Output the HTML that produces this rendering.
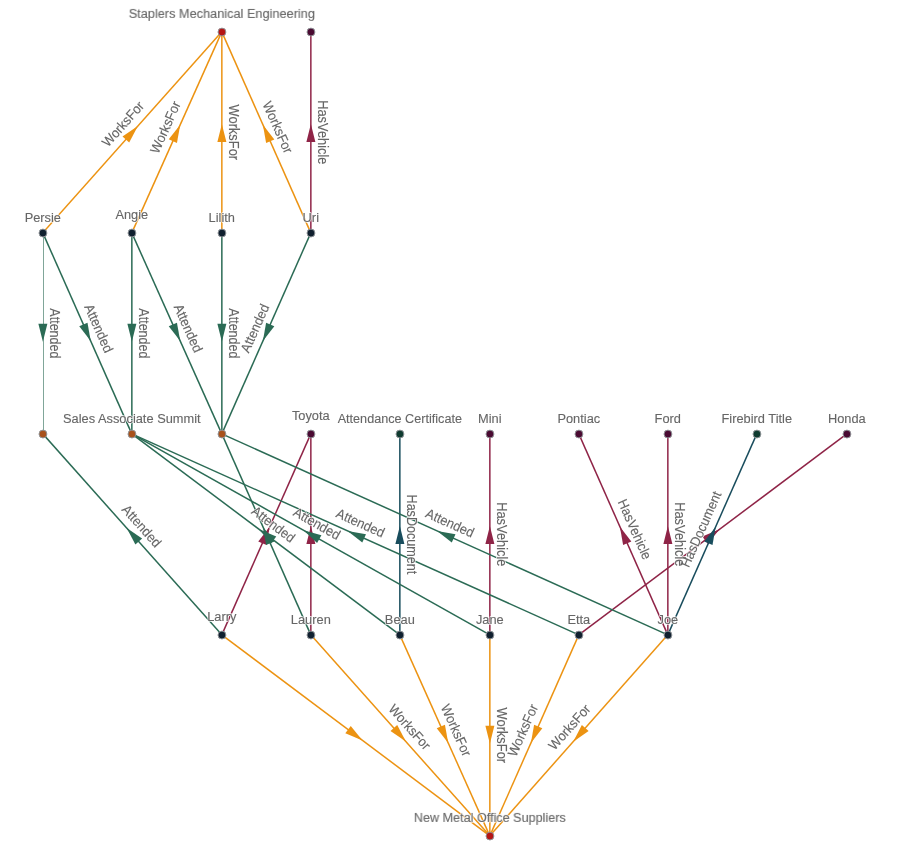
<!DOCTYPE html>
<html lang="en">
<head>
<meta charset="utf-8">
<title>Graph</title>
<style>
html,body{margin:0;padding:0;background:#fff;}
body{width:915px;height:852px;overflow:hidden;}
svg{display:block;will-change:transform;}
text{font-family:"Liberation Sans",sans-serif;font-size:13.3px;text-anchor:middle;}
.halo{fill:#fff;stroke:#fff;stroke-width:1.5px;stroke-linejoin:round;opacity:0.9;}
.fg{fill:#666666;stroke:#666666;stroke-width:0.12px;}
.e{fill:none;stroke-width:1.5;}
.n{stroke:#909498;stroke-width:1;}
</style>
</head>
<body>
<svg width="915" height="852" viewBox="0 0 915 852">
<defs><clipPath id="pr"><rect x="43" y="0" width="872" height="852"/></clipPath></defs>
<g clip-path="url(#pr)">
<line class="e" x1="42.8" y1="232.85" x2="221.8" y2="31.85" stroke="#ec9312"/>
<line class="e" x1="131.8" y1="232.85" x2="221.8" y2="31.85" stroke="#ec9312"/>
<line class="e" x1="221.85" y1="232.85" x2="221.85" y2="31.85" stroke="#ec9312" stroke-width="1.38"/>
<line class="e" x1="310.8" y1="232.85" x2="221.8" y2="31.85" stroke="#ec9312"/>
<line class="e" x1="221.8" y1="634.85" x2="489.8" y2="835.85" stroke="#ec9312"/>
<line class="e" x1="310.8" y1="634.85" x2="489.8" y2="835.85" stroke="#ec9312"/>
<line class="e" x1="399.8" y1="634.85" x2="489.8" y2="835.85" stroke="#ec9312"/>
<line class="e" x1="489.85" y1="634.85" x2="489.85" y2="835.85" stroke="#ec9312" stroke-width="1.38"/>
<line class="e" x1="578.8" y1="634.85" x2="489.8" y2="835.85" stroke="#ec9312"/>
<line class="e" x1="667.8" y1="634.85" x2="489.8" y2="835.85" stroke="#ec9312"/>
<line class="e" x1="310.85" y1="232.85" x2="310.85" y2="31.85" stroke="#8f2447" stroke-width="1.38"/>
<line class="e" x1="221.8" y1="634.85" x2="310.8" y2="433.85" stroke="#8f2447"/>
<line class="e" x1="310.85" y1="634.85" x2="310.85" y2="433.85" stroke="#8f2447" stroke-width="1.38"/>
<line class="e" x1="489.85" y1="634.85" x2="489.85" y2="433.85" stroke="#8f2447" stroke-width="1.38"/>
<line class="e" x1="667.8" y1="634.85" x2="578.8" y2="433.85" stroke="#8f2447"/>
<line class="e" x1="667.85" y1="634.85" x2="667.85" y2="433.85" stroke="#8f2447" stroke-width="1.38"/>
<line class="e" x1="578.8" y1="634.85" x2="846.8" y2="433.85" stroke="#8f2447"/>
<line class="e" x1="399.85" y1="634.85" x2="399.85" y2="433.85" stroke="#194d5d" stroke-width="1.38"/>
<line class="e" x1="667.8" y1="634.85" x2="756.8" y2="433.85" stroke="#194d5d"/>
<line class="e" x1="42.85" y1="232.85" x2="42.85" y2="433.85" stroke="#2b6b55" stroke-width="1.38"/>
<line class="e" x1="42.8" y1="232.85" x2="131.8" y2="433.85" stroke="#2b6b55"/>
<line class="e" x1="131.85" y1="232.85" x2="131.85" y2="433.85" stroke="#2b6b55" stroke-width="1.38"/>
<line class="e" x1="131.8" y1="232.85" x2="221.8" y2="433.85" stroke="#2b6b55"/>
<line class="e" x1="221.85" y1="232.85" x2="221.85" y2="433.85" stroke="#2b6b55" stroke-width="1.38"/>
<line class="e" x1="310.8" y1="232.85" x2="221.8" y2="433.85" stroke="#2b6b55"/>
<line class="e" x1="221.8" y1="634.85" x2="42.8" y2="433.85" stroke="#2b6b55"/>
<line class="e" x1="310.8" y1="634.85" x2="221.8" y2="433.85" stroke="#2b6b55"/>
<line class="e" x1="399.8" y1="634.85" x2="131.8" y2="433.85" stroke="#2b6b55"/>
<line class="e" x1="489.8" y1="634.85" x2="131.8" y2="433.85" stroke="#2b6b55"/>
<line class="e" x1="578.8" y1="634.85" x2="131.8" y2="433.85" stroke="#2b6b55"/>
<line class="e" x1="667.8" y1="634.85" x2="221.8" y2="433.85" stroke="#2b6b55"/>
</g>
<g>
<polygon points="137.89,126.08 129.21,142.59 122.49,136.6" fill="#ec9312"/>
<polygon points="180.23,124.68 176.94,143.04 168.73,139.36" fill="#ec9312"/>
<polygon points="221.85,123.95 226.35,142.05 217.35,142.05" fill="#ec9312"/>
<polygon points="262.9,124.67 274.34,139.4 266.11,143.04" fill="#ec9312"/>
<polygon points="362.52,740.39 345.34,733.13 350.74,725.93" fill="#ec9312"/>
<polygon points="405.89,741.62 390.49,731.1 397.21,725.11" fill="#ec9312"/>
<polygon points="448.23,743.02 436.73,728.34 444.94,724.66" fill="#ec9312"/>
<polygon points="489.85,743.75 485.35,725.65 494.35,725.65" fill="#ec9312"/>
<polygon points="530.9,743.03 534.11,724.66 542.34,728.3" fill="#ec9312"/>
<polygon points="573.23,741.64 581.86,725.1 588.6,731.07" fill="#ec9312"/>
<polygon points="310.85,123.95 315.35,142.05 306.35,142.05" fill="#8f2447"/>
<polygon points="269.7,526.67 266.49,545.04 258.26,541.4" fill="#8f2447"/>
<polygon points="310.85,525.95 315.35,544.05 306.35,544.05" fill="#8f2447"/>
<polygon points="489.85,525.95 494.35,544.05 485.35,544.05" fill="#8f2447"/>
<polygon points="619.9,526.67 631.34,541.4 623.11,545.04" fill="#8f2447"/>
<polygon points="667.85,525.95 672.35,544.05 663.35,544.05" fill="#8f2447"/>
<polygon points="719.52,529.31 707.74,543.77 702.34,536.57" fill="#8f2447"/>
<polygon points="399.85,525.95 404.35,544.05 395.35,544.05" fill="#194d5d"/>
<polygon points="715.7,526.67 712.49,545.04 704.26,541.4" fill="#194d5d"/>
<polygon points="42.85,341.75 38.35,323.65 47.35,323.65" fill="#2b6b55"/>
<polygon points="90.7,341.03 79.26,326.3 87.49,322.66" fill="#2b6b55"/>
<polygon points="131.85,341.75 127.35,323.65 136.35,323.65" fill="#2b6b55"/>
<polygon points="180.23,341.02 168.73,326.34 176.94,322.66" fill="#2b6b55"/>
<polygon points="221.85,341.75 217.35,323.65 226.35,323.65" fill="#2b6b55"/>
<polygon points="262.9,341.03 266.11,322.66 274.34,326.3" fill="#2b6b55"/>
<polygon points="126.71,528.08 142.11,538.6 135.39,544.59" fill="#2b6b55"/>
<polygon points="262.9,526.67 274.34,541.4 266.11,545.04" fill="#2b6b55"/>
<polygon points="259.08,529.31 276.26,536.57 270.86,543.77" fill="#2b6b55"/>
<polygon points="303.48,530.24 321.46,535.17 317.06,543.02" fill="#2b6b55"/>
<polygon points="347.64,530.91 365.99,534.22 362.3,542.43" fill="#2b6b55"/>
<polygon points="437.14,530.9 455.49,534.23 451.79,542.44" fill="#2b6b55"/>
</g>
<g>
<circle class="n" cx="221.95" cy="32.05" r="3.95" fill="#b51515"/>
<circle class="n" cx="310.95" cy="32.05" r="3.95" fill="#4a0a32"/>
<circle class="n" cx="42.95" cy="233.05" r="3.95" fill="#10202f"/>
<circle class="n" cx="131.95" cy="233.05" r="3.95" fill="#10202f"/>
<circle class="n" cx="221.95" cy="233.05" r="3.95" fill="#10202f"/>
<circle class="n" cx="310.95" cy="233.05" r="3.95" fill="#10202f"/>
<circle class="n" cx="42.95" cy="434.05" r="3.95" fill="#a8521c"/>
<circle class="n" cx="131.95" cy="434.05" r="3.95" fill="#a8521c"/>
<circle class="n" cx="221.95" cy="434.05" r="3.95" fill="#a8521c"/>
<circle class="n" cx="310.95" cy="434.05" r="3.95" fill="#4a0a32"/>
<circle class="n" cx="399.95" cy="434.05" r="3.95" fill="#0f3b30"/>
<circle class="n" cx="489.95" cy="434.05" r="3.95" fill="#4a0a32"/>
<circle class="n" cx="578.95" cy="434.05" r="3.95" fill="#4a0a32"/>
<circle class="n" cx="667.95" cy="434.05" r="3.95" fill="#4a0a32"/>
<circle class="n" cx="756.95" cy="434.05" r="3.95" fill="#0f3b30"/>
<circle class="n" cx="846.95" cy="434.05" r="3.95" fill="#4a0a32"/>
<circle class="n" cx="221.95" cy="635.05" r="3.95" fill="#10202f"/>
<circle class="n" cx="310.95" cy="635.05" r="3.95" fill="#10202f"/>
<circle class="n" cx="399.95" cy="635.05" r="3.95" fill="#10202f"/>
<circle class="n" cx="489.95" cy="635.05" r="3.95" fill="#10202f"/>
<circle class="n" cx="578.95" cy="635.05" r="3.95" fill="#10202f"/>
<circle class="n" cx="667.95" cy="635.05" r="3.95" fill="#10202f"/>
<circle class="n" cx="489.95" cy="836.05" r="3.95" fill="#b51515"/>
</g>
<g class="halo">
<use href="#e0"/>
<use href="#e1"/>
<use href="#e2"/>
<use href="#e3"/>
<use href="#e4"/>
<use href="#e5"/>
<use href="#e6"/>
<use href="#e7"/>
<use href="#e8"/>
<use href="#e9"/>
<use href="#e10"/>
<use href="#e11"/>
<use href="#e12"/>
<use href="#e13"/>
<use href="#e14"/>
<use href="#e15"/>
<use href="#e16"/>
<use href="#e17"/>
<use href="#e18"/>
<use href="#e19"/>
<use href="#e20"/>
<use href="#e21"/>
<use href="#e22"/>
<use href="#e23"/>
<use href="#e24"/>
<use href="#e25"/>
<use href="#n0"/>
<use href="#n1"/>
<use href="#n2"/>
<use href="#n3"/>
<use href="#n4"/>
<use href="#n5"/>
<use href="#n6"/>
<use href="#n7"/>
<use href="#n8"/>
<use href="#n9"/>
<use href="#n10"/>
<use href="#n11"/>
<use href="#n12"/>
<use href="#n13"/>
<use href="#n14"/>
<use href="#n15"/>
<use href="#n16"/>
<use href="#n17"/>
<use href="#n18"/>
<use href="#n19"/>
</g>
<g class="fg">
<text id="e0" transform="translate(126.48 127.16) rotate(-48.31) scale(0.965 1.03)">WorksFor</text>
<text id="e1" transform="translate(169.68 129.16) rotate(-65.88) scale(0.965 1.03)">WorksFor</text>
<text id="e2" transform="translate(229.25 132.35) rotate(90) scale(0.968 1.1)">WorksFor</text>
<text id="e3" transform="translate(273.43 129.19) rotate(66.12) scale(0.965 1.03)">WorksFor</text>
<text id="e4" transform="translate(406.12 730.16) rotate(48.31) scale(0.965 1.03)">WorksFor</text>
<text id="e5" transform="translate(451.92 732.16) rotate(65.88) scale(0.965 1.03)">WorksFor</text>
<text id="e6" transform="translate(497.25 735.35) rotate(90) scale(0.968 1.1)">WorksFor</text>
<text id="e7" transform="translate(527.17 732.19) rotate(-66.12) scale(0.965 1.03)">WorksFor</text>
<text id="e8" transform="translate(572.96 730.18) rotate(-48.47) scale(0.965 1.03)">WorksFor</text>
<text id="e9" transform="translate(318.25 132.35) rotate(90) scale(0.968 1.1)">HasVehicle</text>
<text id="e10" transform="translate(497.25 534.35) rotate(90) scale(0.968 1.1)">HasVehicle</text>
<text id="e11" transform="translate(630.43 531.19) rotate(66.12) scale(0.965 1.03)">HasVehicle</text>
<text id="e12" transform="translate(675.25 534.35) rotate(90) scale(0.968 1.1)">HasVehicle</text>
<text id="e13" transform="translate(407.25 534.35) rotate(90) scale(0.946 1.1)">HasDocument</text>
<text id="e14" transform="translate(705.17 531.19) rotate(-66.12) scale(0.965 1.03)">HasDocument</text>
<text id="e15" transform="translate(50.25 333.35) rotate(90) scale(0.94 1.1)">Attended</text>
<text id="e16" transform="translate(94.43 330.19) rotate(66.12) scale(0.965 1.03)">Attended</text>
<text id="e17" transform="translate(139.25 333.35) rotate(90) scale(0.94 1.1)">Attended</text>
<text id="e18" transform="translate(183.92 330.16) rotate(65.88) scale(0.965 1.03)">Attended</text>
<text id="e19" transform="translate(229.25 333.35) rotate(90) scale(0.94 1.1)">Attended</text>
<text id="e20" transform="translate(259.17 330.19) rotate(-66.12) scale(0.965 1.03)">Attended</text>
<text id="e21" transform="translate(138.12 529.16) rotate(48.31) scale(0.965 1.03)">Attended</text>
<text id="e22" transform="translate(270.48 528.11) rotate(36.87) scale(0.942 1.03)">Attended</text>
<text id="e23" transform="translate(314.62 527.55) rotate(29.31) scale(0.965 1.03)">Attended</text>
<text id="e24" transform="translate(358.5 527.24) rotate(24.21) scale(0.965 1.03)">Attended</text>
<text id="e25" transform="translate(448 527.24) rotate(24.26) scale(0.965 1.03)">Attended</text>
<text id="n0" transform="translate(221.8 18.3) scale(0.959 1.03)">Staplers Mechanical Engineering</text>
<text id="n1" transform="translate(42.8 221.7) scale(0.965 1.03)">Persie</text>
<text id="n2" transform="translate(131.8 219.3) scale(0.965 1.03)">Angie</text>
<text id="n3" transform="translate(221.8 221.7) scale(0.965 1.03)">Lilith</text>
<text id="n4" transform="translate(310.8 221.7) scale(0.965 1.03)">Uri</text>
<text id="n5" transform="translate(131.8 422.7) scale(0.965 1.03)">Sales Associate Summit</text>
<text id="n6" transform="translate(310.8 420.3) scale(0.965 1.03)">Toyota</text>
<text id="n7" transform="translate(399.8 422.7) scale(0.951 1.03)">Attendance Certificate</text>
<text id="n8" transform="translate(489.8 422.7) scale(0.965 1.03)">Mini</text>
<text id="n9" transform="translate(578.8 422.7) scale(0.965 1.03)">Pontiac</text>
<text id="n10" transform="translate(667.8 422.7) scale(0.965 1.03)">Ford</text>
<text id="n11" transform="translate(756.8 422.7) scale(0.965 1.03)">Firebird Title</text>
<text id="n12" transform="translate(846.8 422.7) scale(0.965 1.03)">Honda</text>
<text id="n13" transform="translate(221.8 621.3) scale(0.965 1.03)">Larry</text>
<text id="n14" transform="translate(310.8 623.7) scale(0.965 1.03)">Lauren</text>
<text id="n15" transform="translate(399.8 623.7) scale(0.965 1.03)">Beau</text>
<text id="n16" transform="translate(489.8 623.7) scale(0.965 1.03)">Jane</text>
<text id="n17" transform="translate(578.8 623.7) scale(0.965 1.03)">Etta</text>
<text id="n18" transform="translate(667.8 623.7) scale(0.965 1.03)">Joe</text>
<text id="n19" transform="translate(489.8 822.3) scale(0.95 1.03)">New Metal Office Suppliers</text>
</g>
</svg>
</body>
</html>
